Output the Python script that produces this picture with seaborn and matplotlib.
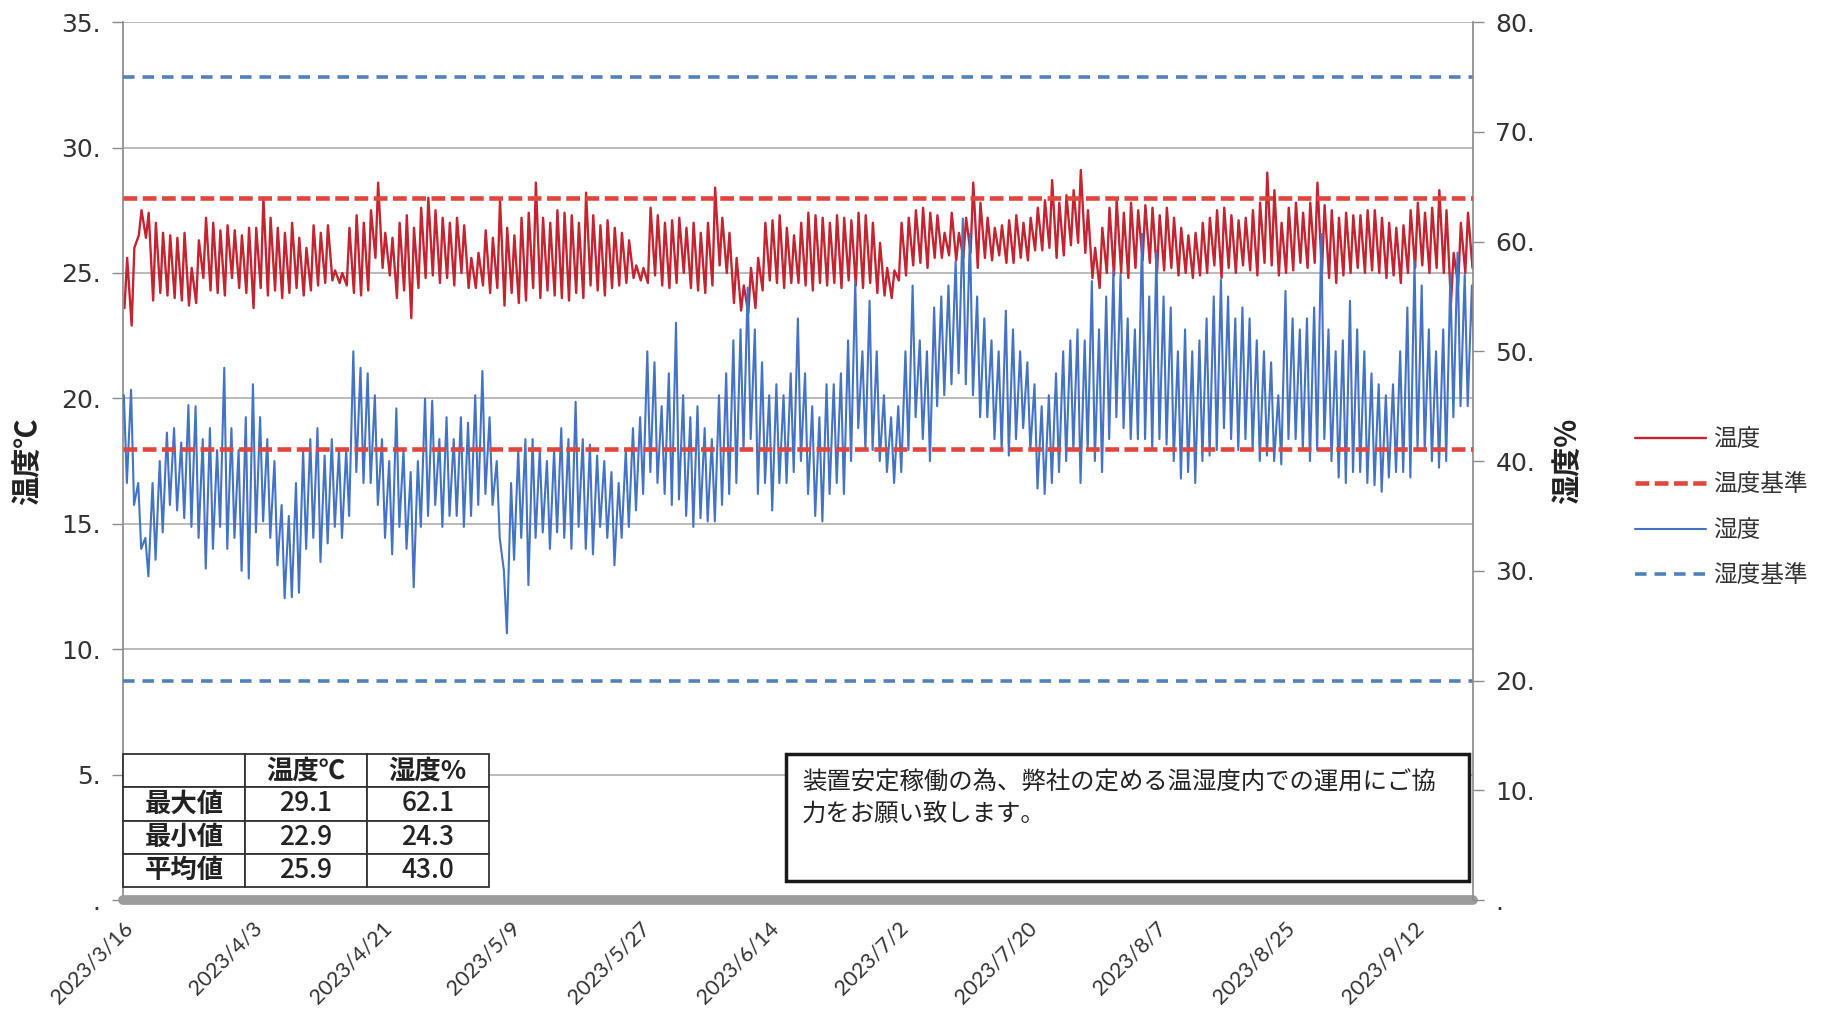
import matplotlib
matplotlib.use("Agg")
import matplotlib.pyplot as plt
import matplotlib.ticker as mticker
from matplotlib.lines import Line2D
from matplotlib.patches import Rectangle
from matplotlib.font_manager import FontProperties
import pandas as pd
import seaborn as sns

# -------------------------------
# datos (máximos / mínimos diarios)
# -------------------------------
start = "2023-03-16"

t_hi = [25.6, 26.0, 27.5, 27.4, 27.0, 26.6, 26.5, 26.4, 26.6, 25.2,
        26.3, 27.2, 27.0, 26.7, 26.9, 26.7, 26.5, 26.8, 26.8, 28.0,
        27.2, 26.8, 26.6, 27.0, 26.4, 26.0, 26.9, 26.6, 26.9, 25.1,
        25.0, 26.8, 27.3, 27.0, 27.5, 28.6, 26.6, 26.4, 27.0, 27.3,
        26.8, 27.6, 28.0, 27.5, 27.2, 27.0, 27.2, 26.9, 25.6, 25.8,
        26.7, 26.4, 27.9, 26.8, 26.5, 27.2, 27.4, 28.6, 27.2, 27.0,
        27.5, 27.4, 27.3, 27.0, 28.2, 27.3, 26.9, 27.1, 26.8, 26.6,
        26.3, 25.3, 25.2, 27.6, 27.3, 27.0, 27.1, 27.2, 26.8, 27.0,
        26.6, 27.0, 28.4, 27.2, 26.6, 25.6, 24.5, 25.2, 25.6, 27.0,
        27.1, 27.3, 26.8, 26.5, 27.0, 27.4, 27.3, 27.2, 27.0, 27.3,
        27.2, 27.1, 27.4, 27.3, 27.0, 26.2, 25.2, 25.1, 27.0, 27.2,
        27.5, 27.6, 27.4, 27.3, 26.6, 27.4, 26.6, 27.2, 28.6, 27.8,
        27.2, 26.8, 26.9, 27.1, 27.3, 27.0, 27.2, 27.6, 27.9, 28.7,
        27.8, 28.1, 28.3, 29.1, 27.5, 26.0, 26.8, 27.6, 27.9, 27.4,
        27.8, 27.5, 27.7, 27.6, 27.3, 27.6, 27.2, 26.8, 26.5, 26.6,
        27.0, 27.2, 27.5, 27.6, 27.3, 27.1, 27.2, 27.5, 27.8, 29.0,
        28.3, 27.0, 27.6, 27.8, 27.4, 27.8, 28.6, 27.7, 27.5, 27.2,
        27.4, 27.3, 27.3, 27.5, 27.5, 27.2, 27.0, 26.8, 26.9, 27.5,
        27.8, 27.4, 27.6, 28.3, 27.5, 25.8, 27.0, 27.4, 26.8]

t_lo = [23.6, 22.9, 26.5, 26.4, 23.9, 24.2, 24.1, 24.0, 23.9, 23.7,
        23.8, 24.8, 24.3, 24.2, 24.1, 24.8, 24.4, 24.2, 23.6, 24.4,
        24.1, 24.3, 24.0, 24.2, 24.4, 24.1, 24.3, 24.5, 24.6, 24.7,
        24.6, 24.5, 24.2, 24.1, 24.3, 25.6, 25.2, 24.9, 24.0, 24.3,
        23.2, 24.4, 24.8, 24.9, 24.6, 24.8, 24.5, 25.0, 24.4, 24.4,
        24.5, 24.2, 24.4, 23.7, 24.2, 23.8, 23.9, 24.4, 24.0, 24.3,
        24.1, 24.0, 23.9, 24.2, 24.0, 24.5, 24.3, 24.1, 24.4, 24.5,
        24.6, 24.8, 24.7, 24.6, 24.9, 24.5, 24.4, 24.6, 25.0, 24.4,
        24.3, 24.2, 24.5, 25.3, 25.0, 23.8, 23.5, 23.4, 23.6, 24.3,
        24.7, 24.6, 24.4, 24.6, 24.6, 24.5, 24.3, 24.6, 24.5, 24.6,
        24.4, 24.7, 24.5, 24.4, 24.6, 24.2, 24.1, 24.0, 24.7, 24.9,
        25.3, 25.4, 25.2, 25.6, 25.6, 25.7, 25.5, 25.6, 25.8, 25.2,
        25.6, 25.5, 25.7, 25.4, 25.4, 25.6, 25.5, 25.9, 25.9, 26.0,
        25.6, 25.7, 26.1, 26.2, 25.8, 24.8, 24.4, 25.0, 24.9, 25.0,
        24.8, 25.2, 25.5, 25.4, 25.0, 25.1, 25.2, 24.9, 25.0, 24.8,
        24.9, 25.0, 25.3, 24.8, 25.2, 25.0, 25.3, 25.1, 24.9, 25.4,
        25.3, 24.9, 25.0, 25.1, 25.4, 25.2, 25.4, 25.0, 24.8, 24.6,
        24.9, 25.0, 25.2, 25.0, 25.1, 25.0, 24.8, 24.9, 24.6, 25.0,
        25.2, 25.3, 25.0, 25.2, 25.0, 23.8, 24.5, 25.0, 25.2]

h_hi = [46.0, 46.5, 38.0, 33.0, 38.0, 40.0, 42.6, 43.0, 41.7, 45.1,
        45.0, 42.0, 43.0, 41.0, 48.5, 43.0, 41.0, 44.0, 47.0, 44.0,
        42.0, 40.0, 36.0, 35.0, 38.0, 41.0, 42.0, 43.0, 40.5, 42.0,
        41.0, 41.0, 50.0, 48.5, 48.0, 46.0, 42.0, 40.0, 44.8, 41.0,
        39.0, 40.0, 45.7, 45.5, 42.0, 44.0, 42.0, 44.0, 43.5, 46.0,
        48.2, 44.0, 40.0, 30.0, 38.0, 41.0, 42.0, 42.0, 41.0, 40.0,
        41.0, 43.0, 42.0, 45.4, 42.0, 41.5, 40.5, 40.0, 39.0, 38.0,
        41.0, 43.0, 44.0, 50.0, 49.0, 45.0, 48.0, 52.6, 46.0, 44.0,
        45.0, 43.0, 42.0, 46.0, 48.0, 51.0, 52.0, 55.8, 52.0, 49.0,
        46.0, 47.0, 46.0, 48.0, 53.0, 48.0, 45.0, 44.0, 47.0, 47.0,
        48.0, 51.0, 56.4, 50.0, 54.6, 50.0, 46.0, 44.0, 45.0, 50.0,
        56.0, 51.0, 50.0, 54.0, 55.0, 56.0, 58.2, 62.1, 60.7, 55.0,
        53.0, 51.0, 50.0, 53.7, 52.0, 50.0, 49.0, 47.0, 45.0, 46.0,
        48.0, 50.0, 51.0, 52.0, 51.0, 56.4, 52.0, 55.0, 57.3, 57.0,
        53.0, 52.0, 60.7, 55.0, 59.0, 55.0, 54.0, 50.0, 52.0, 50.0,
        51.0, 53.0, 55.0, 56.5, 55.0, 53.0, 54.0, 53.0, 51.0, 50.0,
        49.0, 46.0, 55.5, 53.0, 52.0, 53.0, 54.0, 60.7, 52.0, 50.0,
        51.0, 54.6, 52.0, 50.0, 48.0, 47.0, 46.0, 47.0, 50.0, 54.0,
        58.2, 56.0, 52.0, 50.0, 52.0, 57.0, 59.0, 57.0, 56.0]

h_lo = [38.0, 36.0, 32.0, 29.5, 31.0, 33.5, 36.0, 35.5, 34.8, 34.0,
        33.0, 30.2, 32.0, 34.0, 32.0, 33.0, 30.0, 29.3, 33.5, 34.5,
        33.0, 30.5, 27.5, 27.6, 28.0, 32.0, 33.0, 30.8, 32.5, 34.0,
        33.0, 35.0, 39.0, 38.0, 38.0, 36.0, 33.0, 31.5, 34.0, 32.0,
        28.5, 34.0, 35.0, 36.0, 34.0, 35.0, 35.0, 34.0, 35.0, 36.0,
        37.0, 36.0, 33.0, 24.3, 31.0, 33.0, 28.7, 33.0, 33.5, 32.0,
        33.5, 33.0, 32.0, 34.0, 32.0, 31.5, 34.0, 33.0, 30.5, 33.0,
        34.0, 35.5, 37.0, 39.0, 38.0, 37.0, 36.0, 36.5, 35.0, 34.0,
        34.8, 34.5, 34.5, 36.0, 37.0, 38.0, 41.0, 42.0, 37.0, 38.0,
        35.5, 38.0, 38.0, 39.0, 40.0, 37.0, 35.0, 34.5, 37.0, 38.0,
        37.0, 40.0, 43.0, 41.0, 41.0, 40.0, 39.0, 38.0, 39.0, 41.0,
        44.0, 42.0, 40.0, 45.0, 46.0, 47.0, 48.0, 47.0, 46.0, 44.0,
        44.0, 42.0, 41.0, 40.5, 42.0, 43.0, 41.0, 37.5, 37.0, 38.0,
        39.0, 40.0, 41.0, 38.0, 41.0, 40.0, 39.0, 42.0, 44.0, 43.0,
        42.0, 42.0, 42.0, 41.0, 42.0, 41.5, 40.0, 38.4, 39.0, 38.0,
        40.0, 40.5, 41.0, 43.0, 42.0, 41.0, 42.0, 41.0, 40.0, 40.5,
        40.0, 39.7, 42.0, 42.0, 41.0, 40.0, 41.0, 42.0, 40.0, 38.5,
        38.0, 39.0, 39.0, 38.0, 37.8, 37.2, 38.5, 39.0, 39.0, 38.5,
        41.0, 41.0, 40.0, 39.4, 40.0, 44.0, 45.0, 45.0, 46.0]

temp_limits = [28, 18]
hum_limits = [75, 20]

tick_labels = ["2023/3/16", "2023/4/3", "2023/4/21", "2023/5/9", "2023/5/27",
               "2023/6/14", "2023/7/2", "2023/7/20", "2023/8/7", "2023/8/25",
               "2023/9/12"]

stat_rows = ["最大値", "最小値", "平均値"]
temp_stats = ["29.1", "22.9", "25.9"]
hum_stats = ["62.1", "24.3", "43.0"]

note = "装置安定稼働の為、弊社の定める温湿度内での運用にご協\n力をお願い致します。"

# -------------------------------
# tablas para seaborn
# -------------------------------
days = pd.date_range(start, periods=len(t_hi), freq="D")
temp_df = pd.DataFrame({
    "time": list(days + pd.Timedelta(hours=5)) + list(days + pd.Timedelta(hours=14)),
    "value": t_lo + t_hi,
}).sort_values("time")
hum_df = pd.DataFrame({
    "time": list(days + pd.Timedelta(hours=3)) + list(days + pd.Timedelta(hours=13)),
    "value": h_hi + h_lo,
}).sort_values("time")

# -------------------------------
# estilo
# -------------------------------
sns.set_theme(style="white")
CJK = ["Noto Sans CJK JP", "DejaVu Sans"]
plt.rcParams["font.family"] = ["DejaVu Sans", "Noto Sans CJK JP"]

RED = "#c42430"
RED_D = "#e0473c"
BLUE = "#4472c4"
BLUE_D = "#4f81bd"
GRID = "#a8a8a8"
TXT = "#333333"

fig = plt.figure(figsize=(18.22, 10.13), dpi=100)
fig.patch.set_facecolor("white")
ax = fig.add_axes([0.0675, 0.1115, 0.741, 0.8667])
ax2 = ax.twinx()
ax3 = ax.twinx()

sns.lineplot(data=temp_df, x="time", y="value", ax=ax, color=RED,
             linewidth=1.7, estimator=None)
sns.lineplot(data=hum_df, x="time", y="value", ax=ax2, color=BLUE,
             linewidth=1.5, estimator=None)
for v in hum_limits:
    ax2.axhline(v, color=BLUE_D, lw=2.6, linestyle=(0, (3.2, 2.2)))
for v in temp_limits:
    ax3.axhline(v, color=RED_D, lw=3.3, linestyle=(0, (3.0, 1.2)))

ax.set_xlim(pd.Timestamp(start), pd.Timestamp("2023-09-20 07:00"))
ax.set_ylim(0, 35)
ax2.set_ylim(0, 80)
ax3.set_ylim(0, 35)

# ejes y
fmt = mticker.FuncFormatter(lambda v, p: f"{v:.0f}." if v else ".")
ax.set_yticks(range(0, 36, 5))
ax.yaxis.set_major_formatter(fmt)
ax.tick_params(axis="y", left=True, length=8, width=1, color="#8c8c8c",
               labelsize=18, labelcolor=TXT, pad=8)
ax2.set_yticks(range(0, 81, 10))
ax2.yaxis.set_major_formatter(fmt)
ax2.tick_params(axis="y", right=True, length=8, width=1, color="#8c8c8c",
                labelsize=18, labelcolor=TXT, pad=8)
ax3.yaxis.set_visible(False)

ax.yaxis.grid(True, color=GRID, lw=1.1)
ax.xaxis.grid(False)
ax.set_axisbelow(True)

# eje x
tick_pos = pd.to_datetime(tick_labels, format="%Y/%m/%d")
ax.set_xticks(tick_pos)
ax.set_xticklabels(tick_labels, rotation=45, ha="right", va="top",
                   rotation_mode="anchor", fontsize=15.5, family="Lato", color=TXT)
ax.tick_params(axis="x", length=0, pad=13)
ax.axhline(0, color="#9c9c9c", lw=7, clip_on=False, zorder=3)

for a in (ax, ax2, ax3):
    a.set_xlabel("")
    for s in a.spines.values():
        s.set_visible(False)
ax.spines["left"].set_visible(True)
ax.spines["left"].set_color("#8c8c8c")
ax2.spines["right"].set_visible(True)
ax2.spines["right"].set_color("#8c8c8c")

ax.set_ylabel("温度℃", fontsize=21, fontweight="bold", family=CJK, color="#222222")
ax.yaxis.set_label_coords(-0.060, 0.5)
ax2.set_ylabel("湿度%", fontsize=21, fontweight="bold", family=CJK, color="#222222",
               rotation=90)
ax2.yaxis.set_label_coords(1.059, 0.5)
ax3.set_ylabel("")

# leyenda
handles = [
    Line2D([], [], color=RED, lw=1.7),
    Line2D([], [], color=RED_D, lw=3.3, linestyle=(0, (3.0, 1.2))),
    Line2D([], [], color=BLUE, lw=1.5),
    Line2D([], [], color=BLUE_D, lw=2.6, linestyle=(0, (3.2, 2.2))),
]
fig.legend(handles, ["温度", "温度基準", "湿度", "湿度基準"], loc="upper left",
           bbox_to_anchor=(0.8974, 0.5775), frameon=False,
           prop={"family": CJK, "size": 17}, labelcolor=TXT,
           handlelength=3.0, handletextpad=0.3, labelspacing=0.95,
           borderpad=0, borderaxespad=0)

# tabla resumen
cells = [["", "温度℃", "湿度%"]] + [[r, t, h] for r, t, h in zip(stat_rows, temp_stats, hum_stats)]
tbl = ax3.table(cellText=cells, cellLoc="center", bbox=[0.0, 0.0148, 0.271, 0.1515])
tbl.auto_set_font_size(False)
tbl.set_zorder(6)
for (r, c), cell in tbl.get_celld().items():
    cell.set_edgecolor("#333333")
    cell.set_linewidth(1.3)
    cell.set_facecolor("white")
    bold = (c == 0) or (r == 0)
    cell.get_text().set_fontproperties(
        FontProperties(family=CJK, size=19, weight="bold" if bold else "medium"))
    cell.get_text().set_color("#222222")

# nota
ax3.add_patch(Rectangle((0.491, 0.0216), 0.506, 0.1446, transform=ax3.transAxes,
                        facecolor="white", edgecolor="#1a1a1a", lw=2.5,
                        clip_on=False, zorder=5))
ax3.text(0.503, 0.150, note, transform=ax3.transAxes, va="top", ha="left",
         fontsize=17.6, linespacing=1.3, family=CJK, color="#222222", zorder=6)

fig.savefig("out.png", dpi=100, facecolor="white")
